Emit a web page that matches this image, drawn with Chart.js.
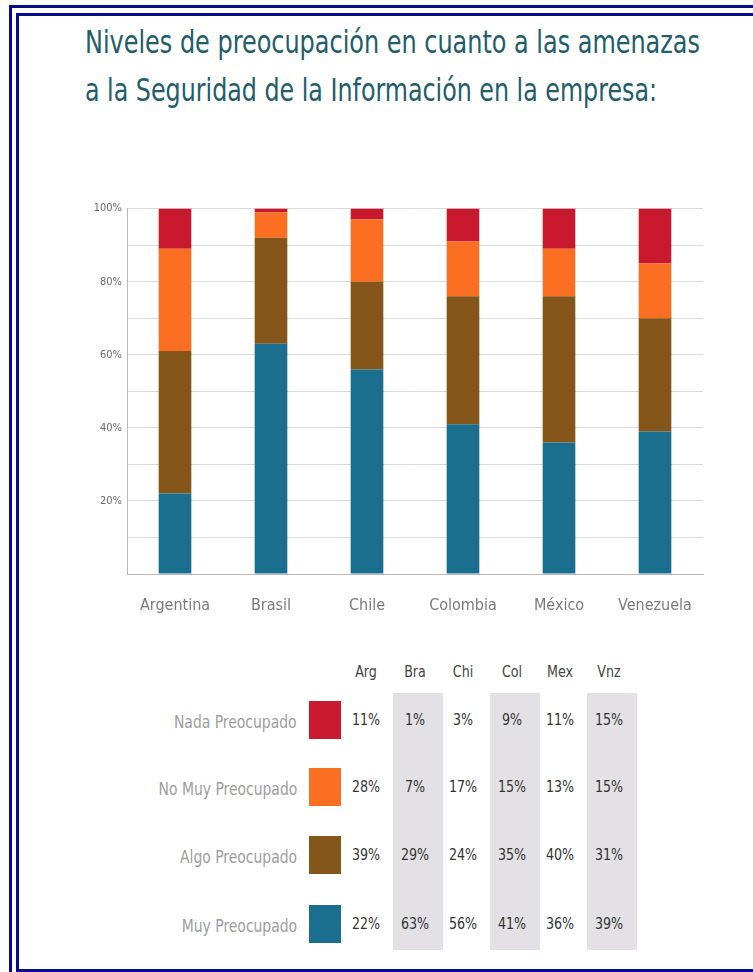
<!DOCTYPE html>
<html>
<head>
<meta charset="utf-8">
<script src="https://cdn.jsdelivr.net/npm/chart.js@4/dist/chart.umd.min.js"></script>
<style>
  html, body { margin:0; padding:0; background:#fff; width:753px; height:972px; overflow:hidden; }
  body { position:relative; font-family:'Liberation Sans Narrow','DejaVu Sans Condensed','Roboto Condensed',sans-serif; }
  .frame { position:absolute; border:3px solid #0a0a8c; }
  #outer { left:9px; top:5px; width:800px; height:1000px; }
  #inner { left:16px; top:13px; width:800px; height:953px; }
  .tline { position:absolute; left:85px; color:#225d69; font-size:32px; line-height:40px; white-space:nowrap; transform-origin:left center; }
  #wrap { position:absolute; left:60px; top:197px; width:653px; height:420px; }
  .cell { position:absolute; text-align:center; white-space:nowrap; }
  .hdr { color:#444; font-size:16px; }
  .val { color:#333; font-size:16px; }
  .rowlab { position:absolute; color:#9d9d9d; font-size:18px; white-space:nowrap; transform-origin:right center; }
  .sw { position:absolute; width:32px; height:38px; }
  .shade { position:absolute; background:#e3e1e5; }
</style>
</head>
<body>
<div class="frame" id="outer"></div>
<div class="frame" id="inner"></div>
<div class="tline" id="t1" style="top:22px">Niveles de preocupación en cuanto a las amenazas</div>
<div class="tline" id="t2" style="top:70px">a la Seguridad de la Información en la empresa:</div>
<div id="wrap"><canvas id="chart"></canvas></div>
<div id="table"></div>
<script>
const countries = ['Argentina', 'Brasil', 'Chile', 'Colombia', 'México', 'Venezuela'];
const shortNames = ['Arg', 'Bra', 'Chi', 'Col', 'Mex', 'Vnz'];

const muyPreocupado = [22, 63, 56, 41, 36, 39];
const algoPreocupado = [39, 29, 24, 35, 40, 31];
const noMuyPreocupado = [28, 7, 17, 15, 13, 15];
const nadaPreocupado = [11, 1, 3, 9, 11, 15];

const seriesNames = ['Muy Preocupado', 'Algo Preocupado', 'No Muy Preocupado', 'Nada Preocupado'];
const seriesColors = ['#1a6f8e', '#85561a', '#fa6f22', '#c8192f'];
const seriesData = [muyPreocupado, algoPreocupado, noMuyPreocupado, nadaPreocupado];

const fontFam = "'Liberation Sans Narrow','DejaVu Sans Condensed','Roboto Condensed',sans-serif";

// titulo: estrechar para que ocupe el ancho del original
const squeeze = (el, w) => {
  const cur = el.getBoundingClientRect().width;
  el.style.transform = 'scaleX(' + (w / cur) + ')';
};
squeeze(document.getElementById('t1'), 615);
squeeze(document.getElementById('t2'), 572);

new Chart(document.getElementById('chart'), {
  type: 'bar',
  data: {
    labels: countries,
    datasets: seriesNames.map((name, i) => ({
      label: name,
      data: seriesData[i],
      backgroundColor: seriesColors[i],
      borderWidth: 0,
      barPercentage: 0.34,
      categoryPercentage: 1
    }))
  },
  options: {
    responsive: true,
    maintainAspectRatio: false,
    animation: false,
    layout: { padding: { top: 9, right: 10, left: 0, bottom: 0 } },
    plugins: { legend: { display: false }, tooltip: { enabled: false } },
    scales: {
      x: {
        stacked: true,
        grid: { display: false },
        border: { display: true, color: '#b8b8b8', width: 1 },
        ticks: { color: '#7a7a7a', padding: 14, font: { family: fontFam, size: 16 } },
        afterFit: s => { s.height = 43; }
      },
      y: {
        stacked: true,
        min: 0,
        max: 100,
        grid: { color: '#d9d9d9', drawTicks: false },
        border: { display: true, color: '#b8b8b8', width: 1 },
        ticks: {
          stepSize: 10,
          padding: 5,
          color: '#6a6a6a',
          font: { family: fontFam, size: 11 },
          callback: v => (v > 0 && v % 20 === 0) ? v + '%' : ''
        },
        afterFit: s => { s.width = 67; }
      }
    }
  }
});

// tabla inferior
const tbl = document.getElementById('table');
const colX = [366, 414.5, 463, 511.5, 560, 608.5];
const rowY = [720, 787, 855, 924];
const rowOrder = [3, 2, 1, 0]; // Nada, No Muy, Algo, Muy

[1, 3, 5].forEach(c => {
  const d = document.createElement('div');
  d.className = 'shade';
  d.style.left = (colX[c] + 3 - 25) + 'px';
  d.style.top = '693px';
  d.style.width = '50px';
  d.style.height = '257px';
  tbl.appendChild(d);
});

const addCell = (cls, text, cx, top) => {
  const d = document.createElement('div');
  d.className = 'cell ' + cls;
  d.textContent = text;
  d.style.left = (cx - 25) + 'px';
  d.style.width = '50px';
  d.style.top = top + 'px';
  d.style.transform = 'scaleX(0.88)';
  tbl.appendChild(d);
};

shortNames.forEach((n, c) => addCell('hdr', n, colX[c], 662));

rowOrder.forEach((s, r) => {
  const lab = document.createElement('div');
  lab.className = 'rowlab';
  lab.textContent = seriesNames[s];
  lab.style.right = (753 - 297) + 'px';
  lab.style.top = (rowY[r] - 9) + 'px';
  lab.style.transform = 'scaleX(0.86)';
  tbl.appendChild(lab);

  const sw = document.createElement('div');
  sw.className = 'sw';
  sw.style.background = seriesColors[s];
  sw.style.left = '309px';
  sw.style.top = (rowY[r] - 19) + 'px';
  tbl.appendChild(sw);

  seriesData[s].forEach((v, c) => addCell('val', v + '%', colX[c], rowY[r] - 10));
});
</script>
</body>
</html>
